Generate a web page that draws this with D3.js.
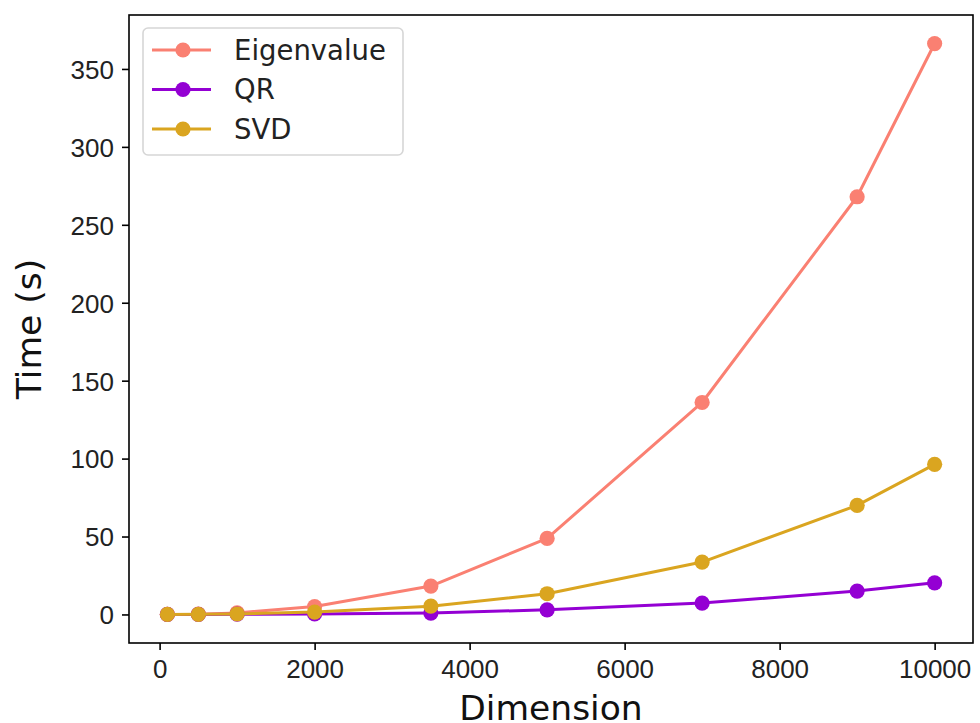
<!DOCTYPE html>
<html>
<head>
<meta charset="utf-8">
<script src="https://cdn.jsdelivr.net/npm/d3@7"></script>
<style>
  html, body { margin: 0; padding: 0; background: #fff; }
  svg { display: block; font-family: "DejaVu Sans", sans-serif; }
</style>
</head>
<body>
<svg id="chart" width="980" height="723"></svg>
<script>
// Matrix dimension vs. run time for three decompositions
const dimensions = [100, 500, 1000, 2000, 3500, 5000, 7000, 9000, 10000];
const eigenvalueTimes = [0.05, 0.2, 1.0, 5.1, 18.2, 48.8, 136, 268, 366.3];
const qrTimes = [0.01, 0.05, 0.15, 0.3, 0.9, 3.0, 7.3, 15.0, 20.3];
const svdTimes = [0.02, 0.1, 0.3, 1.5, 5.3, 13.3, 33.6, 70.0, 96.3];
const xTicks = [0, 2000, 4000, 6000, 8000, 10000];
const yTicks = [0, 50, 100, 150, 200, 250, 300, 350];

const series = [
  { name: "Eigenvalue", color: "#fa8072", values: eigenvalueTimes },
  { name: "QR", color: "#9400d3", values: qrTimes },
  { name: "SVD", color: "#daa520", values: svdTimes }
];

const svg = d3.select("#chart");
const plot = { left: 129, right: 973, top: 15, bottom: 643 };

// Axis limits padded by 5% of the data span on each side
const xMin = d3.min(dimensions), xMax = d3.max(dimensions);
const xPad = (xMax - xMin) * 0.05;
const allY = series.flatMap(s => s.values);
const yMin = 0, yMax = d3.max(allY);
const yPad = (yMax - yMin) * 0.05;

const x = d3.scaleLinear().domain([xMin - xPad, xMax + xPad]).range([plot.left, plot.right]);
const y = d3.scaleLinear().domain([yMin - yPad, yMax + yPad]).range([plot.bottom, plot.top]);

const tickFont = 26;

// Axes
const xAxis = d3.axisBottom(x).tickValues(xTicks).tickFormat(d3.format("d")).tickSize(7).tickPadding(8);
const yAxis = d3.axisLeft(y).tickValues(yTicks).tickFormat(d3.format("d")).tickSize(7).tickPadding(8);

const gx = svg.append("g").attr("transform", `translate(0,${plot.bottom})`).call(xAxis);
const gy = svg.append("g").attr("transform", `translate(${plot.left},0)`).call(yAxis);
[gx, gy].forEach(g => {
  g.select(".domain").remove();
  g.selectAll(".tick line").attr("stroke", "#000").attr("stroke-width", 1.6);
  g.selectAll(".tick text").attr("fill", "#222").style("font-size", tickFont + "px");
});
gx.selectAll(".tick text").attr("dy", "0.78em");
gy.selectAll(".tick text").attr("dy", "0.36em");

// Lines and markers
const line = d3.line().x((d, i) => x(dimensions[i])).y(d => y(d));
const lines = svg.append("g");
series.forEach(s => {
  const g = lines.append("g");
  g.append("path")
    .datum(s.values)
    .attr("fill", "none")
    .attr("stroke", s.color)
    .attr("stroke-width", 3)
    .attr("stroke-linejoin", "round")
    .attr("d", line);
  g.selectAll("circle")
    .data(s.values)
    .join("circle")
    .attr("cx", (d, i) => x(dimensions[i]))
    .attr("cy", d => y(d))
    .attr("r", 7.6)
    .attr("fill", s.color);
});

// Frame
svg.append("rect")
  .attr("x", plot.left).attr("y", plot.top)
  .attr("width", plot.right - plot.left).attr("height", plot.bottom - plot.top)
  .attr("fill", "none").attr("stroke", "#000").attr("stroke-width", 1.6);

// Axis titles
svg.append("text")
  .attr("x", (plot.left + plot.right) / 2).attr("y", 720)
  .attr("text-anchor", "middle").attr("fill", "#111")
  .style("font-size", "34.5px")
  .text("Dimension");
svg.append("text")
  .attr("transform", `translate(41,${(plot.top + plot.bottom) / 2}) rotate(-90)`)
  .attr("text-anchor", "middle").attr("fill", "#111")
  .style("font-size", "34.5px")
  .text("Time (s)");

// Legend
const legend = svg.append("g");
legend.append("rect")
  .attr("x", 143).attr("y", 28).attr("width", 260).attr("height", 127)
  .attr("rx", 5).attr("ry", 5)
  .attr("fill", "#fff").attr("fill-opacity", 0.8)
  .attr("stroke", "#d6d6d6").attr("stroke-width", 1.6);
series.forEach((s, i) => {
  const cy = 50 + i * 39.5;
  const row = legend.append("g");
  row.append("line")
    .attr("x1", 152).attr("x2", 211).attr("y1", cy).attr("y2", cy)
    .attr("stroke", s.color).attr("stroke-width", 3);
  row.append("circle").attr("cx", 183).attr("cy", cy).attr("r", 7.6).attr("fill", s.color);
  row.append("text")
    .attr("x", 234).attr("y", cy).attr("dy", "0.36em")
    .attr("fill", "#222")
    .style("font-size", "27.5px")
    .text(s.name);
});
</script>
</body>
</html>
